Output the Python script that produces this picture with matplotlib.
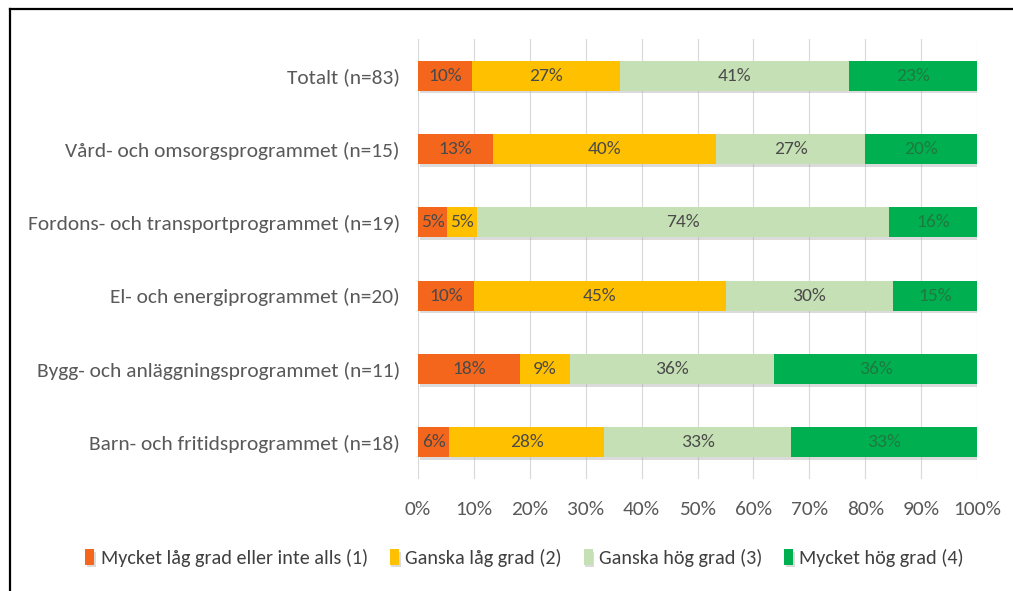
import matplotlib
matplotlib.use("Agg")
import matplotlib.pyplot as plt
from matplotlib.lines import Line2D
from matplotlib import font_manager as fm
import matplotlib.patheffects as pe
import numpy as np

categories = [
    "Totalt (n=83)",
    "Vård- och omsorgsprogrammet (n=15)",
    "Fordons- och transportprogrammet (n=19)",
    "El- och energiprogrammet (n=20)",
    "Bygg- och anläggningsprogrammet (n=11)",
    "Barn- och fritidsprogrammet (n=18)",
]
series_names = [
    "Mycket låg grad eller inte alls (1)",
    "Ganska låg grad (2)",
    "Ganska hög grad (3)",
    "Mycket hög grad (4)",
]
mycket_lag = [9.64, 13.33, 5.26, 10.00, 18.18, 5.56]
ganska_lag = [26.51, 40.00, 5.26, 45.00, 9.09, 27.78]
ganska_hog = [40.96, 26.67, 73.68, 30.00, 36.36, 33.33]
mycket_hog = [22.89, 20.00, 15.79, 15.00, 36.36, 33.33]
xticks = [0, 10, 20, 30, 40, 50, 60, 70, 80, 90, 100]

colors = ["#F4661B", "#FFC000", "#C5E0B4", "#00B050"]
label_colors = ["#4a4a4a", "#4a4a4a", "#4a4a4a", "#1E7A3E"]

available = {f.name for f in fm.fontManager.ttflist}
if "Carlito" in available:
    fam = "Carlito"
    ysz, vsz, xsz, lsz = 15.4, 14, 15.4, 14.5
else:
    fam = "DejaVu Sans"
    ysz, vsz, xsz, lsz = 12.5, 11.5, 12, 12
plt.rcParams['font.family'] = [fam, 'DejaVu Sans']

fig = plt.figure(figsize=(10.13, 5.91), dpi=100)
ax = fig.add_axes([0.4126, 0.1895, 0.552, 0.7445])

shadow = [pe.SimplePatchShadow(offset=(1.2, -2.0), shadow_rgbFace="#9a9a9a", alpha=0.35), pe.Normal()]

series = [mycket_lag, ganska_lag, ganska_hog, mycket_hog]
y = np.arange(len(categories))
left = np.zeros(len(categories))
for vals, col, lc, name in zip(series, colors, label_colors, series_names):
    vals = np.array(vals)
    bars = ax.barh(y, vals, left=left, height=0.41, color=col, label=name, zorder=3)
    for b in bars:
        b.set_path_effects(shadow)
    for yi, l, v in zip(y, left, vals):
        ax.text(l + v / 2, yi, f"{v:.0f}%", ha="center", va="center",
                color=lc, fontsize=vsz, zorder=4)
    left = left + vals

ax.set_xlim(0, 100)
ax.set_ylim(len(categories) - 0.5, -0.5)
ax.set_yticks(y)
ax.set_yticklabels(categories, fontsize=ysz, color="#595959")
ax.set_xticks(xticks)
ax.set_xticklabels([f"{t}%" for t in xticks], fontsize=xsz, color="#595959")
ax.tick_params(axis="both", length=0)
ax.tick_params(axis="y", pad=13)
ax.tick_params(axis="x", pad=16)
ax.grid(axis="x", color="#D9D9D9", linewidth=0.8, zorder=0)
for s in ax.spines.values():
    s.set_visible(False)

fig.legend(loc="center", bbox_to_anchor=(0.518, 0.056), ncol=4, frameon=False,
           fontsize=lsz, handlelength=0.45, handleheight=0.8, handletextpad=0.3,
           columnspacing=1.1, labelcolor="#404040")

fig.add_artist(Line2D([0.0099, 1.0], [1 - 9 / 591, 1 - 9 / 591], color="black", linewidth=1.6,
                      transform=fig.transFigure))
fig.add_artist(Line2D([0.0099, 0.0099], [0.0, 1 - 9 / 591], color="black", linewidth=1.6,
                      transform=fig.transFigure))

fig.savefig("out.png", dpi=100, facecolor="white")
